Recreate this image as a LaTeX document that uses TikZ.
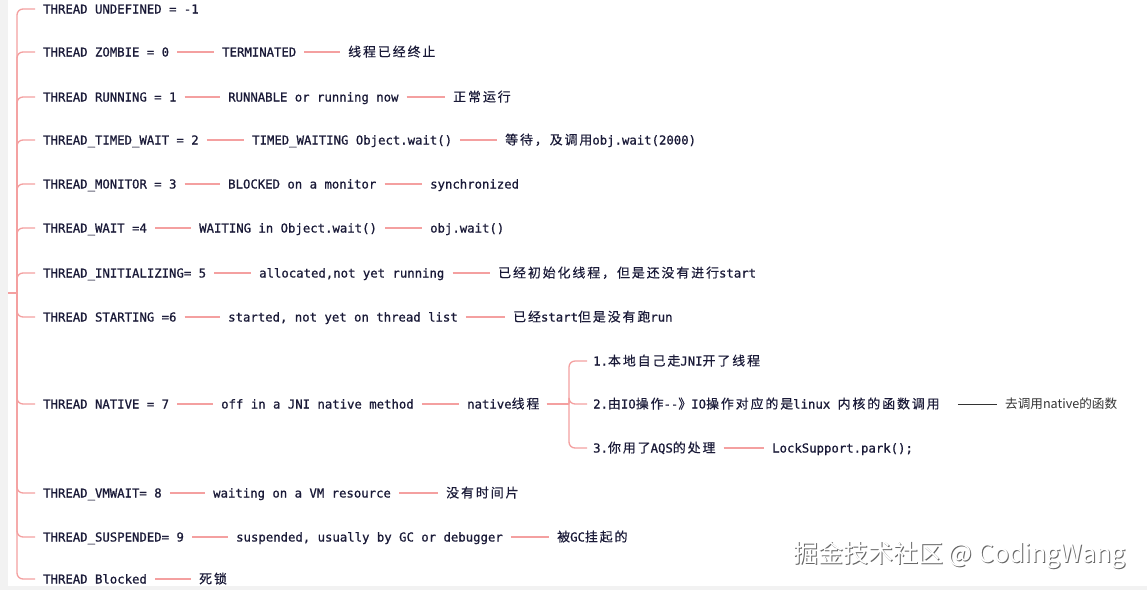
\documentclass[tikz,border=0pt]{standalone}
\usepackage{fontspec}
\newfontfamily\monofont{DejaVu Sans Mono}[FakeBold=0.9]
\newfontfamily\zhfont{Noto Sans CJK SC}[Scale=1.05,LetterSpace=15,FakeBold=0.4]
\newfontfamily\yhfont{Noto Sans CJK SC}
\newcommand\zh[1]{{\zhfont #1}}
\definecolor{txtcol}{HTML}{1A1A38}
\definecolor{pinkline}{HTML}{F4A0A0}
\definecolor{bggray}{HTML}{F2F2F2}
\tikzset{
  txt/.style={anchor=west, inner xsep=0pt, inner ysep=1pt, text height=11pt, text depth=2pt,
    font={\monofont\fontsize{12.3}{14}\selectfont}, text=txtcol},
  link/.style={draw=pinkline, line width=1.3pt, shorten <=8pt, shorten >=8pt},
  branch/.style={draw=pinkline, line width=1.3pt, rounded corners=6pt, shorten >=8pt},
  darklink/.style={draw=black!80, line width=1pt, shorten <=18pt, shorten >=8pt},
}
\begin{document}
\begin{tikzpicture}[x=1pt,y=-1pt]
\useasboundingbox (0,0) rectangle (1147,590);
\fill[bggray] (0,0) rectangle (1147,590);
\fill[white] (8,0) rectangle (1147,586);

% main rows
\node[txt] (r0) at (43,9) {THREAD UNDEFINED = -1};

\node[txt] (r1) at (43,52) {THREAD ZOMBIE = 0};
\node[txt] (r1a) at (222,52) {TERMINATED};
\node[txt] (r1b) at (348,52) {\zh{线程已经终止}};

\node[txt] (r2) at (43,97) {THREAD RUNNING = 1};
\node[txt] (r2a) at (228,97) {RUNNABLE or running now};
\node[txt] (r2b) at (453,97) {\zh{正常运行}};

\node[txt] (r3) at (43,140) {THREAD\_TIMED\_WAIT = 2};
\node[txt] (r3a) at (252,140) {TIMED\_WAITING Object.wait()};
\node[txt] (r3b) at (505,140) {\zh{等待，及调用}obj.wait(2000)};

\node[txt] (r4) at (43,184) {THREAD\_MONITOR = 3};
\node[txt] (r4a) at (228,184) {BLOCKED on a monitor};
\node[txt] (r4b) at (430,184) {synchronized};

\node[txt] (r5) at (43,228) {THREAD\_WAIT =4};
\node[txt] (r5a) at (199,228) {WAITING in Object.wait()};
\node[txt] (r5b) at (430,228) {obj.wait()};

\node[txt] (r6) at (43,273) {THREAD\_INITIALIZING= 5};
\node[txt] (r6a) at (259,273) {allocated,not yet running};
\node[txt] (r6b) at (498,273) {\zh{已经初始化线程，但是还没有进行}start};

\node[txt] (r7) at (43,317) {THREAD STARTING =6};
\node[txt] (r7a) at (228,317) {started, not yet on thread list};
\node[txt] (r7b) at (513,317) {\zh{已经}start\zh{但是没有跑}run};

\node[txt] (r8) at (43,404) {THREAD NATIVE = 7};
\node[txt] (r8a) at (221,404) {off in a JNI native method};
\node[txt] (r8b) at (467,404) {native\zh{线程}};

\node[txt] (c1) at (593,361) {1.\zh{本地自己走}JNI\zh{开了线程}};
\node[txt] (c2) at (593,404) {2.\zh{由}IO\zh{操作}-{}-\zh{》}IO\zh{操作对应的是}linux \zh{内核的函数调用}};
\node[txt, font={\yhfont\fontsize{12.6}{14}\selectfont}, text=black!80] (c2a) at (1005,404) {去调用native的函数};
\node[txt] (c3) at (593,448) {3.\zh{你用了}AQS\zh{的处理}};
\node[txt] (c3a) at (772,448) {LockSupport.park();};

\node[txt] (r9) at (43,493) {THREAD\_VMWAIT= 8};
\node[txt] (r9a) at (213,493) {waiting on a VM resource};
\node[txt] (r9b) at (446,493) {\zh{没有时间片}};

\node[txt] (r10) at (43,537) {THREAD\_SUSPENDED= 9};
\node[txt] (r10a) at (236,537) {suspended, usually by GC or debugger};
\node[txt] (r10b) at (557,537) {\zh{被}GC\zh{挂起的}};

\node[txt] (r11) at (43,579) {THREAD Blocked};
\node[txt] (r11a) at (199,579) {\zh{死锁}};

% spine
\coordinate (stub) at (8,293);
\coordinate (root) at (17,293);
\draw[draw=pinkline, line width=1.3pt] (stub) -- (root);
\foreach \n in {r0,r1,r2,r3,r4,r5,r6,r7,r8,r9,r10,r11}
  \draw[branch] (root) |- (\n.west);

% row connectors
\foreach \a/\b in {r1/r1a,r1a/r1b,r2/r2a,r2a/r2b,r3/r3a,r3a/r3b,r4/r4a,r4a/r4b,
  r5/r5a,r5a/r5b,r6/r6a,r6a/r6b,r7/r7a,r7a/r7b,r8/r8a,r8a/r8b,c3/c3a,
  r9/r9a,r9a/r9b,r10/r10a,r10a/r10b,r11/r11a}
  \draw[link] (\a.east) -- (\b.west);
\draw[darklink] (c2.east) -- (c2a.west);

% native sub-bracket
\coordinate (nroot) at (569,404);
\draw[draw=pinkline, line width=1.3pt, shorten <=7pt] (r8b.east) -- (nroot);
\draw[branch, shorten >=6pt] (nroot) |- (c1.west);
\draw[branch, shorten >=6pt] (nroot) |- (c2.west);
\draw[branch, shorten >=6pt] (nroot) |- (c3.west);

% watermark
\node[anchor=west, inner sep=0pt, text=black!60, font={\yhfont\fontsize{25}{28}\selectfont}] (wms) at (794,556) {掘金技术社区 @ CodingWang};
\node[anchor=west, inner sep=0pt, text=white, font={\yhfont\fontsize{25}{28}\selectfont}] (wm) at (793,555) {掘金技术社区 @ CodingWang};
\end{tikzpicture}
\end{document}
